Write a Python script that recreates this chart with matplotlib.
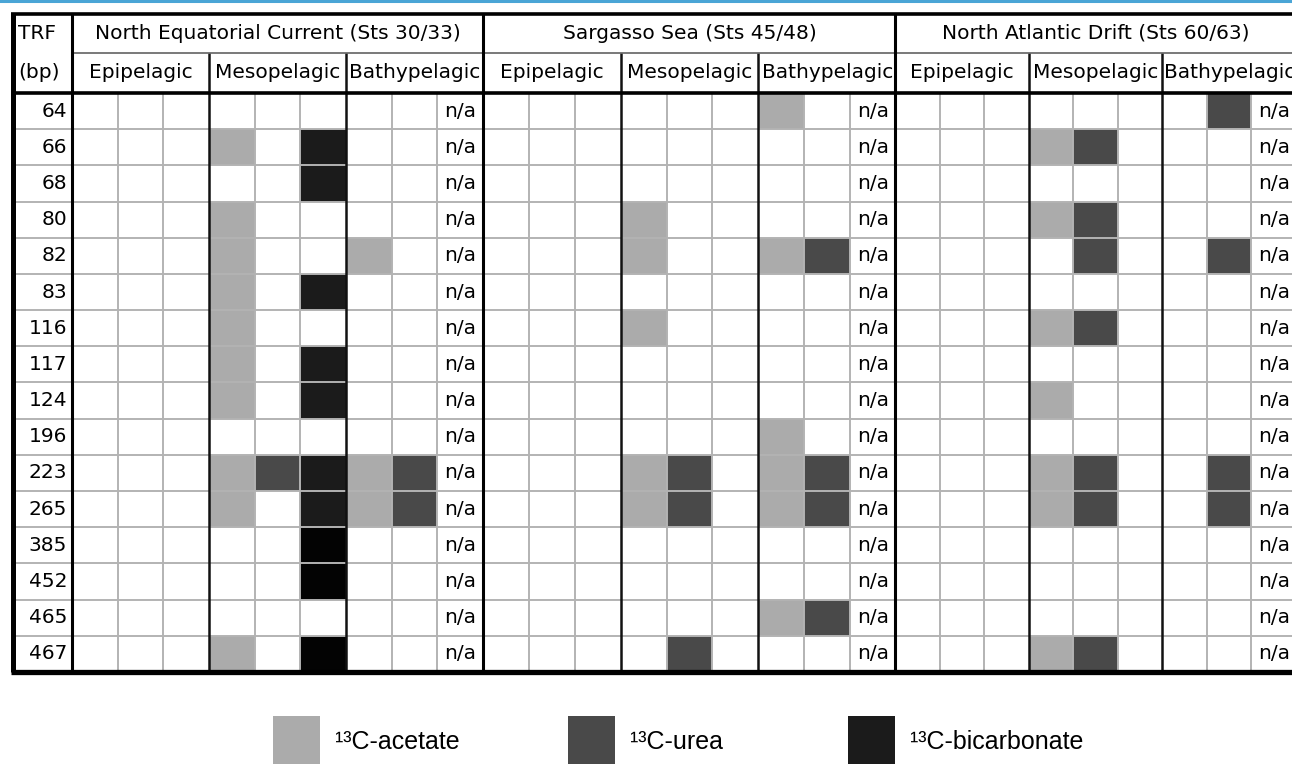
import numpy as np
import matplotlib
matplotlib.use('Agg')
import matplotlib.pyplot as plt
from matplotlib.colors import ListedColormap, BoundaryNorm
from matplotlib.patches import Rectangle

# TRF fragment sizes (bp), one per table row
trf_bp = [64, 66, 68, 80, 82, 83, 116, 117, 124, 196, 223, 265, 385, 452, 465, 467]

regions = ["North Equatorial Current (Sts 30/33)",
           "Sargasso Sea (Sts 45/48)",
           "North Atlantic Drift (Sts 60/63)"]
zones = ["Epipelagic", "Mesopelagic", "Bathypelagic"]
substrates = ["\u00b9\u00b3C-acetate", "\u00b9\u00b3C-urea", "\u00b9\u00b3C-bicarbonate"]

# one string per TRF row, 3 columns per zone (9 per region)
# 0 = none, 1 = acetate, 2 = urea, 3 = bicarbonate, 4 = bicarbonate (darker print)
# last Bathypelagic column is n/a
nec_cells = [
    "000000000", "000103000", "000003000", "000100000",
    "000100100", "000103000", "000100000", "000103000",
    "000103000", "000000000", "000123120", "000103120",
    "000004000", "000004000", "000000000", "000104000",
]
sargasso_cells = [
    "000000100", "000000000", "000000000", "000100000",
    "000100120", "000000000", "000100000", "000000000",
    "000000000", "000000100", "000120120", "000120120",
    "000000000", "000000000", "000000120", "000020000",
]
nad_cells = [
    "000000020", "000120000", "000000000", "000120000",
    "000020020", "000000000", "000120000", "000000000",
    "000100000", "000000000", "000120020", "000120020",
    "000000000", "000000000", "000000000", "000120000",
]

cell_colors = ['white', '#ababab', '#494949', '#1b1b1b', '#030303']
legend_colors = ['#ababab', '#494949', '#1b1b1b']
cmap = ListedColormap(cell_colors)
norm = BoundaryNorm(np.arange(-0.5, 5.5, 1), cmap.N)

# layout in pixels
W, H = 1292, 764
TOP, HDR_MID, HDR_BOT, BOT = 14, 53, 93, 672
n_rows = len(trf_bp)
row_h = (BOT - HDR_BOT) / n_rows
y_top = -(HDR_BOT - TOP) / row_h
y_mid = -(HDR_BOT - HDR_MID) / row_h
region_px = [(72, 411), (483, 413), (895, 401)]

GRAY = '#b3b3b3'
FS = 14.5
plt.rcParams['font.family'] = ['DejaVu Sans']

fig = plt.figure(figsize=(W / 100, H / 100), dpi=100)


def px_axes(left, width):
    ax = fig.add_axes([left / W, 1 - BOT / H, width / W, (BOT - TOP) / H])
    ax.set_ylim(n_rows, y_top)
    ax.axis('off')
    return ax


# TRF column
ax_t = px_axes(12, 60)
ax_t.set_xlim(0, 60)
ax_t.hlines(np.arange(1, n_rows), 0, 60, color=GRAY, lw=1.4)
ax_t.hlines(0, 0, 60, color='black', lw=2.6, clip_on=False)
ax_t.text(25, (y_top + y_mid) / 2, "TRF", ha='center', va='center', fontsize=FS)
ax_t.text(27, y_mid / 2, "(bp)", ha='center', va='center', fontsize=FS)
for r, bp in enumerate(trf_bp):
    ax_t.text(55, r + 0.5, str(bp), ha='right', va='center', fontsize=FS)

# the three regions
for (left, width), name, cells in zip(region_px, regions,
                                      [nec_cells, sargasso_cells, nad_cells]):
    ax = px_axes(left, width)
    ax.set_xlim(0, 9)
    m = np.array([[int(c) for c in s] for s in cells])
    ax.pcolormesh(np.arange(10), np.arange(n_rows + 1), m, cmap=cmap, norm=norm)

    thin = [k for k in range(1, 9) if k % 3]
    ax.vlines(thin, 0, n_rows, color=GRAY, lw=1.4)
    ax.hlines(np.arange(1, n_rows), 0, 9, color=GRAY, lw=1.4)
    ax.vlines([3, 6], y_mid, n_rows, color='#111111', lw=1.8)
    ax.hlines(y_mid, 0, 9, color='#555555', lw=1.1, clip_on=False)
    ax.hlines(0, 0, 9, color='black', lw=2.6, clip_on=False)
    ax.vlines(0, y_top, n_rows, color='black', lw=2.2, clip_on=False)

    ax.text(4.5, (y_top + y_mid) / 2, name, ha='center', va='center', fontsize=FS)
    for z, zone in enumerate(zones):
        ax.text(1.5 + 3 * z, y_mid / 2, zone, ha='center', va='center', fontsize=FS)
    for r in range(n_rows):
        ax.text(8.5, r + 0.5, "n/a", ha='center', va='center', fontsize=FS)

# frame, top rule and legend
bg = fig.add_axes([0, 0, 1, 1])
bg.set_xlim(0, W)
bg.set_ylim(H, 0)
bg.axis('off')
bg.axhline(1.2, color='#4aa5d6', lw=2.2)
bg.vlines(12.5, TOP, BOT, color='black', lw=3.6)
bg.hlines(TOP, 11, W, color='black', lw=2.6)
bg.hlines(BOT, 11, W, color='black', lw=3.8)

legend_x = [273, 568, 848]
for x, label, col in zip(legend_x, substrates, legend_colors):
    bg.add_patch(Rectangle((x, 716), 47, 52, facecolor=col, edgecolor='none'))
    bg.text(x + 62, 742, label, ha='left', va='center', fontsize=18,
            family=['Liberation Sans Narrow', 'Liberation Sans', 'DejaVu Sans'])

fig.savefig('out.png', dpi=100)
